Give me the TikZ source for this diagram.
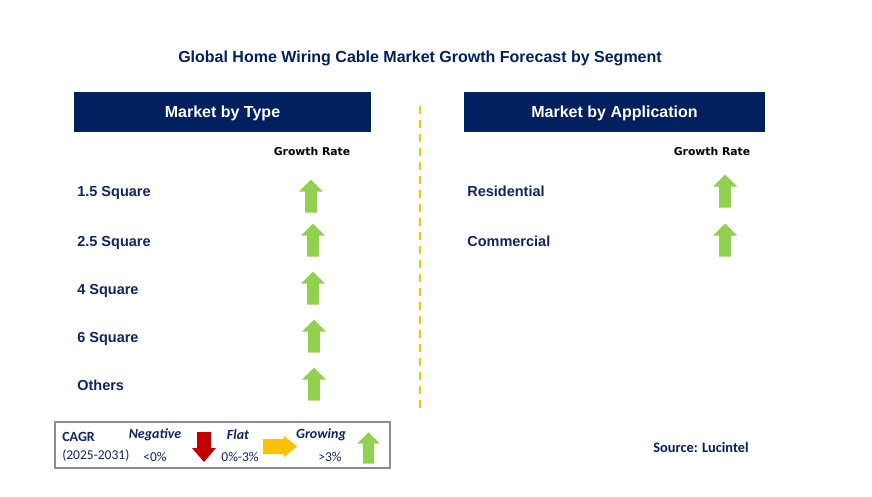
\documentclass[tikz,border=0pt]{standalone}
\usepackage{fontspec}
\setmainfont{Liberation Sans}
\newfontfamily\calfont{Carlito}
\newfontfamily\ratefont{DejaVu Sans}
\usetikzlibrary{positioning}
\definecolor{navy}{HTML}{002060}
\definecolor{rowblue}{HTML}{0F2461}
\definecolor{upgreen}{HTML}{92D050}
\definecolor{downred}{HTML}{C00000}
\definecolor{flatamber}{HTML}{FFC000}
\definecolor{legendgray}{HTML}{8C8C8C}
\tikzset{
	headbox/.style={fill=navy, text=white, inner sep=0pt, minimum width=297pt, minimum height=40pt,
		text height=11.5pt, text depth=0pt, font=\bfseries\fontsize{16}{18}\selectfont},
	rowlabel/.style={anchor=west, inner sep=0pt, text height=10pt, text depth=0pt, text=rowblue,
		font=\bfseries\fontsize{14.5}{16}\selectfont},
	ratelabel/.style={inner sep=0pt, font=\ratefont\bfseries\fontsize{10.8}{13}\selectfont},
	legendtext/.style={inner sep=0pt, text=rowblue, font=\calfont\fontsize{13.5}{16}\selectfont},
	legendhead/.style={legendtext, font=\calfont\bfseries\itshape\fontsize{14}{16}\selectfont},
	pics/growarrow/.style={code={\fill[upgreen] (-6,16.5) -- (-6,-4.5) -- (-12,-4.5) -- (0,-16.5)
		-- (12,-4.5) -- (6,-4.5) -- (6,16.5) -- cycle;}},
	pics/fallarrow/.style={code={\fill[downred] (-7,-15) -- (-7,1) -- (-12,1) -- (0,15)
		-- (12,1) -- (7,1) -- (7,-15) -- cycle;}},
	pics/flatarrow/.style={code={\fill[flatamber] (-17,-7.5) -- (4,-7.5) -- (4,-10.5) -- (17,0)
		-- (4,10.5) -- (4,7.5) -- (-17,7.5) -- cycle;}},
}
\begin{document}
\begin{tikzpicture}[x=1pt,y=-1pt,line width=0.6pt]
		\useasboundingbox[fill=white] (0,0) rectangle (872,496);
		% title and headers
		\node[text=navy, text height=11.5pt, text depth=0pt, font=\bfseries\fontsize{16}{18}\selectfont] (title) at (420,57) {Global Home Wiring Cable Market Growth Forecast by Segment};
		\node[headbox] (typehead) at (222.5,112) {Market by Type};
		\node[headbox, minimum width=301pt] (apphead) at (614.5,112) {Market by Application};
		\coordinate (splittop) at (420,106);
		\coordinate (splitbot) at (420,414);
		\draw[flatamber, line width=2.5pt, dash pattern=on 8pt off 6pt] (splittop) -- (splitbot);
		% market by type
		\node[ratelabel] (typerate) at (312,151) {Growth Rate};
		\node[rowlabel] (sq15) at (77,191) {1.5 Square};
		\node[rowlabel] (sq25) at (77,241) {2.5 Square};
		\node[rowlabel] (sq4) at (77,289) {4 Square};
		\node[rowlabel] (sq6) at (77,337) {6 Square};
		\node[rowlabel] (others) at (77,385) {Others};
		\pic at (311,196) {growarrow};
		\pic at (313,240) {growarrow};
		\pic at (313,288) {growarrow};
		\pic at (314,336) {growarrow};
		\pic at (314,384) {growarrow};
		% market by application
		\node[ratelabel] (apprate) at (712,151) {Growth Rate};
		\node[rowlabel] (resid) at (467,191) {Residential};
		\node[rowlabel] (comm) at (467,241) {Commercial};
		\pic at (725,191) {growarrow};
		\pic at (725,240) {growarrow};
		% legend
		\node[draw=legendgray, line width=1.5pt, minimum width=335pt, minimum height=46pt, inner sep=0pt] (legend) at (222.5,445) {};
		\node[legendtext, anchor=west, font=\calfont\bfseries\fontsize{14}{16}\selectfont] (cagr) at (62,437) {CAGR};
		\node[legendtext, anchor=west] (period) at (62,455) {(2025-2031)};
		\node[legendhead] (neg) at (155,435) {Negative};
		\node[legendtext] (negval) at (155,457) {<0\%};
		\pic at (204,447) {fallarrow};
		\node[legendhead] (flat) at (238,435) {Flat};
		\node[legendtext] (flatval) at (240,457) {0\%-3\%};
		\pic at (280,446.5) {flatarrow};
		\node[legendhead] (grow) at (321,435) {Growing};
		\node[legendtext] (growval) at (330,457) {>3\%};
		\pic[scale=0.95] at (368.5,448) {growarrow};
		% source
		\node[inner sep=0pt, text=navy, anchor=west, font=\calfont\bfseries\fontsize{14.4}{16}\selectfont] (source) at (653,447) {Source: Lucintel};
\end{tikzpicture}
\end{document}
